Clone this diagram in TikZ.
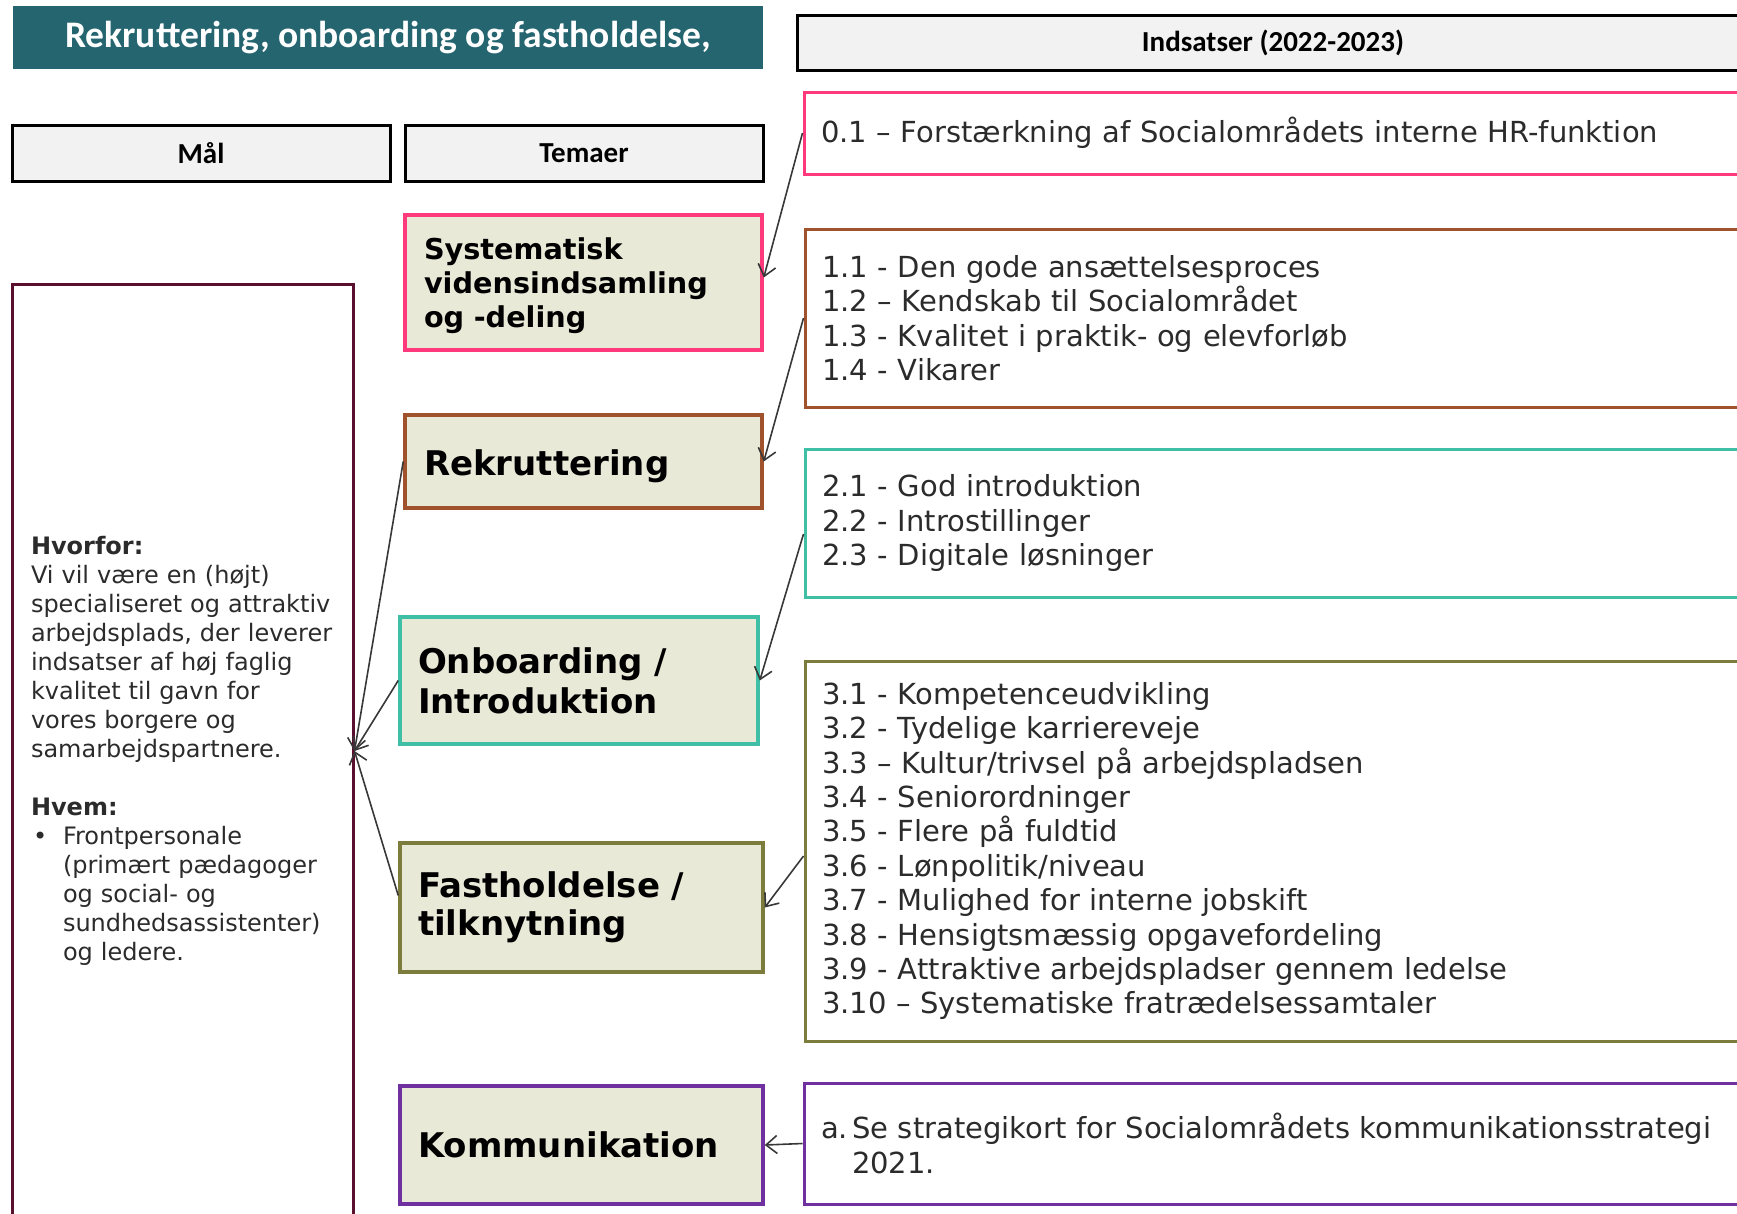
\documentclass[tikz,border=0pt]{standalone}
\usepackage{fontspec}
\setmainfont{DejaVu Sans}
\newfontfamily\calib{Carlito}
\usetikzlibrary{arrows.meta}
\definecolor{bannerc}{HTML}{246570}
\definecolor{hdrgray}{HTML}{F2F2F2}
\definecolor{beige}{HTML}{E9E9D8}
\definecolor{pinkc}{HTML}{FF3A7C}
\definecolor{brownc}{HTML}{A0522D}
\definecolor{tealc}{HTML}{3EBFA6}
\definecolor{olivec}{HTML}{7C7C3C}
\definecolor{purplec}{HTML}{7030A0}
\definecolor{maroonc}{HTML}{5A0F2E}
\definecolor{txtc}{HTML}{2B2B2B}
\definecolor{arrc}{HTML}{383838}
\begin{document}
\begin{tikzpicture}[x=1pt,y=-1pt,
  banner/.style={fill=bannerc, draw=none, text=white, inner sep=0pt,
    font=\calib\bfseries\fontsize{37.5}{42}\selectfont},
  hdr/.style={draw=black, line width=3pt, fill=hdrgray, inner sep=0pt,
    font=\calib\bfseries\fontsize{29}{33}\selectfont},
  theme/.style={line width=3.5pt, fill=beige, align=left, inner ysep=0pt, text=black,
    font=\bfseries\fontsize{34}{40}\selectfont},
  ind/.style={line width=3pt, fill=white, align=left, inner xsep=17pt, inner ysep=0pt,
    text=txtc, font=\fontsize{29}{34.4}\selectfont, text width=910pt, minimum width=944pt},
  malbox/.style={draw=maroonc, line width=3pt, fill=white, align=left, inner xsep=19pt,
    inner ysep=0pt, text=txtc, font=\fontsize{24}{29}\selectfont},
  arr/.style={draw=arrc, line width=1.6pt, -{Straight Barb[length=11pt,width=18pt]}}
]
\useasboundingbox (0,0) rectangle (1737,1213);
\clip (0,0) rectangle (1737,1213);

% headers
\node[banner, minimum width=750pt, minimum height=63pt] (ban) at (388,37.5) {Rekruttering, onboarding og fastholdelse,};
\node[hdr, minimum width=952pt, minimum height=55pt] (hind) at (1273,42.5) {Indsatser (2022-2023)};
\node[hdr, minimum width=378pt, minimum height=56pt] (hmal) at (201,153) {Mål};
\node[hdr, minimum width=358pt, minimum height=56pt] (htem) at (584,153) {Temaer};

% goal box
\node[malbox, text width=303pt, minimum width=341pt, minimum height=934pt] (mal) at (182.5,751) {%
\textbf{Hvorfor:}\\
Vi vil være en (højt)\\
specialiseret og attraktiv\\
arbejdsplads, der leverer\\
indsatser af høj faglig\\
kvalitet til gavn for\\
vores borgere og\\
samarbejdspartnere.\\[29pt]
\textbf{Hvem:}\\
\makebox[32pt][l]{\hspace{2pt}•}Frontpersonale\\
\hspace*{32pt}(primært pædagoger\\
\hspace*{32pt}og social- og\\
\hspace*{32pt}sundhedsassistenter)\\
\hspace*{32pt}og ledere.};

% themes
\node[theme, draw=pinkc, inner xsep=19pt, text width=319pt, minimum width=357pt, minimum height=135pt,
  text height=28pt, font=\bfseries\fontsize{28.7}{34}\selectfont] (t0) at (583.5,282.5)
  {Systematisk\\vidensindsamling\\og -deling};
\node[theme, draw=brownc, inner xsep=19pt, text width=319pt, minimum width=357pt, minimum height=93pt,
  text height=36pt, text depth=8pt] (t1) at (583.5,461.5) {Rekruttering};
\node[theme, draw=tealc, inner xsep=18pt, text width=322pt, minimum width=358pt, minimum height=127pt] (t2) at (579,680.5) {Onboarding /\\Introduktion};
\node[theme, draw=olivec, inner xsep=18pt, text width=327pt, minimum width=363pt, minimum height=129pt,
  font=\bfseries\fontsize{34}{38}\selectfont] (t3) at (581.5,907.5) {Fastholdelse /\\tilknytning};
\node[theme, draw=purplec, inner xsep=18pt, text width=327pt, minimum width=363pt, minimum height=118pt] (t4) at (581.5,1145) {Kommunikation};

% initiatives
\node[ind, draw=pinkc, minimum height=82pt] (r0) at (1276,133) {0.1 – Forstærkning af Socialområdets interne HR-funktion};
\node[ind, draw=brownc, minimum height=178pt] (r1) at (1277,318) {1.1 - Den gode ansættelsesproces\\
1.2 – Kendskab til Socialområdet\\
1.3 - Kvalitet i praktik- og elevforløb\\
1.4 - Vikarer};
\node[ind, draw=tealc, minimum height=148pt] (r2) at (1277,523) {2.1 - God introduktion\\
2.2 - Introstillinger\\
2.3 - Digitale løsninger};
\node[ind, draw=olivec, minimum height=380pt] (r3) at (1277,851) {3.1 - Kompetenceudvikling\\
3.2 - Tydelige karriereveje\\
3.3 – Kultur/trivsel på arbejdspladsen\\
3.4 - Seniorordninger\\
3.5 - Flere på fuldtid\\
3.6 - Lønpolitik/niveau\\
3.7 - Mulighed for interne jobskift\\
3.8 - Hensigtsmæssig opgavefordeling\\
3.9 - Attraktive arbejdspladser gennem ledelse\\
3.10 – Systematiske fratrædelsessamtaler};
\node[ind, draw=purplec, minimum height=121pt] (r4) at (1276,1143.5) {\makebox[31pt][l]{a.}Se strategikort for Socialområdets kommunikationsstrategi\\
\hspace*{31pt}2021.};

% connectors
\draw[arr] (r0.west) -- ([yshift=5pt]t0.east);
\draw[arr] (r1.west) -- (t1.east);
\draw[arr] ([yshift=-11pt]r2.west) -- (t2.east);
\draw[arr] ([yshift=-5pt]r3.west) -- (t3.east);
\draw[arr] (r4.west) -- (t4.east);
\draw[arr] (t1.west) -- (mal.east);
\draw[arr] (t2.west) -- (mal.east);
\draw[arr] ([yshift=12pt]t3.west) -- (mal.east);
\end{tikzpicture}
\end{document}
